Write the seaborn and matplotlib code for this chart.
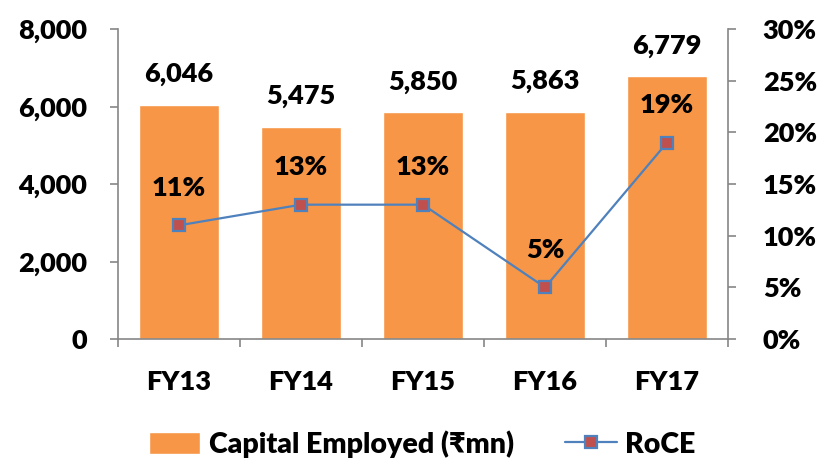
import numpy as np
import pandas as pd
import matplotlib
matplotlib.use('Agg')
import matplotlib.pyplot as plt
from matplotlib.ticker import FuncFormatter, FixedLocator
import seaborn as sns

years = ['FY13', 'FY14', 'FY15', 'FY16', 'FY17']
capital_employed = [6046, 5475, 5850, 5863, 6779]
roce = [11, 13, 13, 5, 19]

bar_color = '#F79646'
line_color = '#4F81BD'
marker_color = '#C0504D'
axis_color = '#868686'

sns.set_style('white')
plt.rcParams['font.family'] = ['Lato', 'DejaVu Sans']
plt.rcParams['text.color'] = 'black'
plt.rcParams['xtick.labelcolor'] = 'black'
plt.rcParams['ytick.labelcolor'] = 'black'
fs = 19.5
wt = 'heavy'

df = pd.DataFrame({'year': years, 'capital': capital_employed, 'roce': roce})

fig = plt.figure(figsize=(8.25, 4.58), dpi=100)
ax = fig.add_axes([118 / 825, 1 - 339 / 458, 610 / 825, 310 / 458])

sns.barplot(data=df, x='year', y='capital', color=bar_color, width=0.66,
            saturation=1, ax=ax, label='Capital Employed (₹mn)')
if ax.get_legend() is not None:
    ax.get_legend().remove()
ax.set_xlim(-0.5, len(years) - 0.5)
ax.set_ylim(0, 8000)
ax.set_yticks(range(0, 8001, 2000))
ax.yaxis.set_major_formatter(FuncFormatter(lambda v, p: f'{int(v):,}'))
ax.set_xlabel('')
ax.set_ylabel('')

for i, v in enumerate(capital_employed):
    ax.annotate(f'{v:,}', (i, v), xytext=(0, 22), textcoords='offset points',
                ha='center', va='center', fontsize=fs, fontweight=wt)

ax2 = ax.twinx()
ax2.plot(np.arange(len(years)), roce, color=line_color, lw=1.6, marker='s',
         markersize=8, markerfacecolor=marker_color, markeredgecolor=line_color,
         markeredgewidth=1.6, label='RoCE')
ax2.set_ylim(0, 30)
ax2.set_yticks(range(0, 31, 5))
ax2.yaxis.set_major_formatter(FuncFormatter(lambda v, p: f'{int(v)}%'))

for i, v in enumerate(roce):
    ax2.annotate(f'{v}%', (i, v), xytext=(0, 27), textcoords='offset points',
                 ha='center', va='center', fontsize=fs, fontweight=wt)

for a in (ax, ax2):
    a.spines['top'].set_visible(False)
    for side in ('left', 'right', 'bottom'):
        a.spines[side].set_color(axis_color)
        a.spines[side].set_linewidth(1.2)

ax.spines['right'].set_visible(False)
ax2.spines['left'].set_visible(False)
ax2.spines['bottom'].set_visible(False)

ax.tick_params(axis='y', direction='out', length=6, width=1.2, color=axis_color,
               labelsize=fs, pad=16, left=True)
ax2.tick_params(axis='y', which='major', direction='out', length=6, width=1.2,
                color=axis_color, labelsize=fs, pad=19, right=True, left=False)
ax.tick_params(axis='x', which='major', length=0, labelsize=fs, pad=22)
ax.xaxis.set_minor_locator(FixedLocator(np.arange(-0.5, len(years), 1.0)))
ax.tick_params(axis='x', which='minor', direction='out', length=6, width=1.2,
               color=axis_color, bottom=True)
for lab in ax.get_xticklabels() + ax.get_yticklabels() + ax2.get_yticklabels():
    lab.set_fontweight(wt)

h1, l1 = ax.get_legend_handles_labels()
h2, l2 = ax2.get_legend_handles_labels()
fig.legend(h1 + h2, l1 + l2, loc='lower center', bbox_to_anchor=(0.512, -0.055),
           ncol=2, frameon=False, handlelength=1.8,
           handleheight=0.8, columnspacing=1.8, handletextpad=0.3,
           prop={'weight': wt, 'size': 20.5})

fig.savefig('out.png', dpi=100)
plt.close(fig)
